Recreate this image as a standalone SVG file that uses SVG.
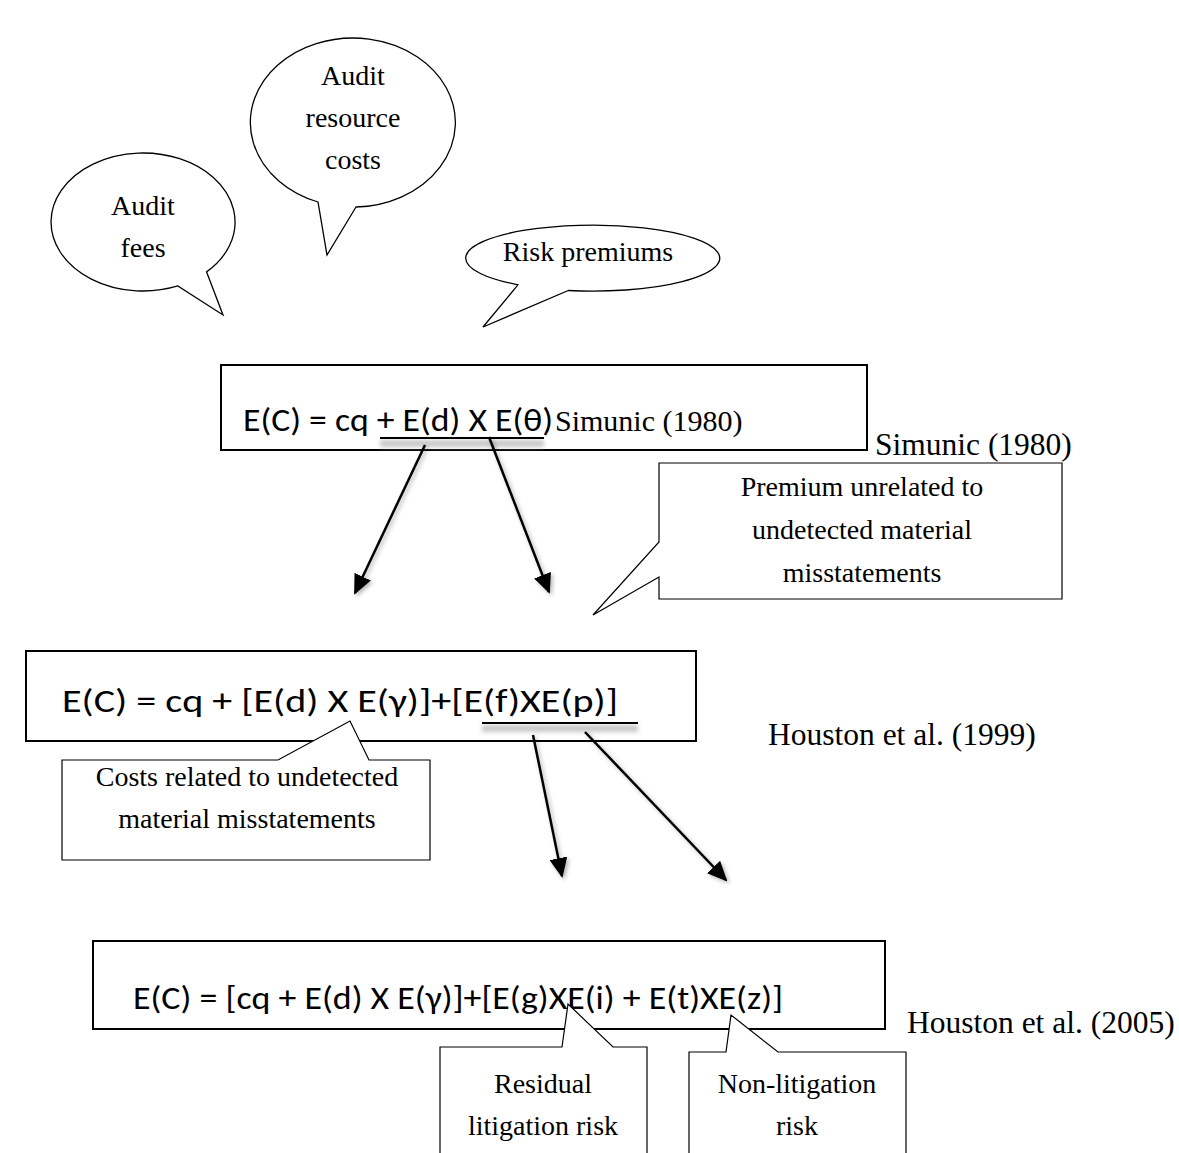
<svg xmlns="http://www.w3.org/2000/svg" width="1179" height="1153" viewBox="0 0 1179 1153">
<defs>
<style>
.bub{fill:#fff;stroke:#000;stroke-width:1.3}
.box{fill:#fff;stroke:#000;stroke-width:2}
.co{fill:#fff;stroke:#000;stroke-width:1.2}
.t{font-family:"Liberation Serif","Times New Roman",serif;font-size:28px;fill:#000;text-anchor:middle}
.lab{font-family:"Liberation Serif","Times New Roman",serif;font-size:31.5px;fill:#000}
.eq{font-family:Carlito,Lato,"Noto Sans",sans-serif;font-size:32px;fill:#000}
.ar{stroke:#000;stroke-width:2.5;fill:none;marker-end:url(#ah)}
.ul{stroke:#000;stroke-width:1.8}
.uls{fill:#c8c8c8}
</style>
<marker id="ah" markerUnits="userSpaceOnUse" markerWidth="20" markerHeight="18" viewBox="0 0 20 18" refX="18" refY="9" orient="auto">
<path d="M0,0 L20,9 L0,18 Z" fill="#000"/>
</marker>
<filter id="sh" x="-20%" y="-20%" width="140%" height="140%">
<feDropShadow dx="2" dy="2" stdDeviation="2" flood-color="#000" flood-opacity="0.3"/>
</filter>
<filter id="bl" x="-10%" y="-100%" width="120%" height="300%">
<feGaussianBlur stdDeviation="2"/>
</filter>
</defs>
<rect width="1179" height="1153" fill="#fff"/>

<g id="bubble-audit-fees">
<path class="bub" d="M206.6,271.9 L223,315 L177.8,285.9 A92,69 0 1 1 206.6,271.9 Z"/>
<text class="t" x="143" y="215">Audit</text>
<text class="t" x="143" y="257">fees</text>
</g>

<g id="bubble-audit-resource-costs">
<path class="bub" d="M356,207 L327,255 L318,202 A102.5,84.5 0 1 1 356,207 Z"/>
<text class="t" x="353" y="85">Audit</text>
<text class="t" x="353" y="127">resource</text>
<text class="t" x="353" y="169">costs</text>
</g>

<g id="bubble-risk-premiums">
<path class="bub" d="M568.3,290.5 L483,327 L518,284.8 A127,33 0 1 1 568.3,290.5 Z"/>
<text class="t" x="588" y="261">Risk premiums</text>
</g>

<g id="eq-simunic">
<rect class="box" x="221" y="365" width="646" height="85"/>
<rect class="uls" x="380" y="440" width="164" height="7" filter="url(#bl)"/>
<line class="ul" x1="380" y1="438" x2="544" y2="438"/>
<text class="eq" x="243" y="431" textLength="310" lengthAdjust="spacingAndGlyphs">E(C) = cq + E(d) X E(θ)</text>
<text class="lab" x="555" y="431" style="font-size:30px">Simunic (1980)</text>
</g>
<g id="label-simunic">
<text class="lab" x="875" y="455">Simunic (1980)</text>
</g>

<g id="eq-houston-1999">
<rect class="box" x="26" y="651" width="670" height="90"/>
<rect class="uls" x="482" y="725" width="156" height="7" filter="url(#bl)"/>
<line class="ul" x1="482" y1="723" x2="638" y2="723"/>
<text class="eq" x="62" y="712" textLength="556" lengthAdjust="spacingAndGlyphs" style="font-size:33px">E(C) = cq + [E(d) X E(γ)]+[E(f)XE(p)]</text>
</g>
<g id="label-houston-1999">
<text class="lab" x="768" y="745">Houston et al. (1999)</text>
</g>

<g id="eq-houston-2005">
<rect class="box" x="93" y="941" width="792" height="88"/>
<text class="eq" x="133" y="1009" textLength="650" lengthAdjust="spacingAndGlyphs">E(C) = [cq + E(d) X E(γ)]+[E(g)XE(i) + E(t)XE(z)]</text>
</g>
<g id="label-houston-2005">
<text class="lab" x="907" y="1033">Houston et al. (2005)</text>
</g>

<g id="callout-premium">
<path class="co" d="M659,463 L1062,463 L1062,599 L659,599 L659,577 L593,615 L659,542 Z"/>
<text class="t" x="862" y="496">Premium unrelated to</text>
<text class="t" x="862" y="539">undetected material</text>
<text class="t" x="862" y="582">misstatements</text>
</g>

<g id="callout-costs">
<path class="co" d="M62,760 L278,760 L350,721 L369,760 L430,760 L430,860 L62,860 Z"/>
<text class="t" x="247" y="786">Costs related to undetected</text>
<text class="t" x="247" y="828">material misstatements</text>
</g>

<g id="callout-residual">
<path class="co" d="M440,1047 L562,1047 L568,1004 L613,1047 L647,1047 L647,1165 L440,1165 Z"/>
<text class="t" x="543" y="1093">Residual</text>
<text class="t" x="543" y="1135">litigation risk</text>
</g>

<g id="callout-nonlitigation">
<path class="co" d="M689,1052 L726,1052 L731,1015 L778,1052 L906,1052 L906,1165 L689,1165 Z"/>
<text class="t" x="797" y="1093">Non-litigation</text>
<text class="t" x="797" y="1135">risk</text>
</g>

<g id="connectors" filter="url(#sh)">
<line class="ar" x1="425" y1="445" x2="355" y2="593"/>
<line class="ar" x1="489" y1="437" x2="549" y2="592"/>
<line class="ar" x1="533" y1="735" x2="562" y2="876"/>
<line class="ar" x1="585" y1="732" x2="726" y2="880"/>
</g>
</svg>
